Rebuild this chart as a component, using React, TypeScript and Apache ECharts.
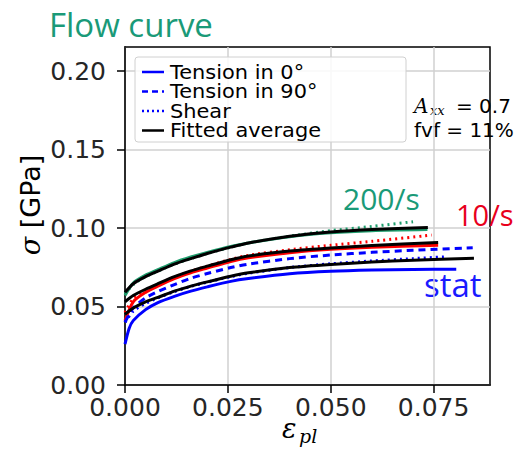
import React, { useEffect, useRef } from 'react';
import * as echarts from 'echarts';

// Tick values
const xTickValues = [0, 0.025, 0.05, 0.075];
const yTickValues = [0, 0.05, 0.1, 0.15, 0.2];

// 200/s
const x200Solid = [0, 0.002, 0.005, 0.008, 0.012, 0.016, 0.02, 0.0257, 0.03, 0.04, 0.05, 0.06, 0.0735];
const y200Solid = [0.057, 0.065, 0.07, 0.0735, 0.078, 0.0815, 0.0845, 0.0883, 0.0905, 0.0945, 0.097, 0.0983, 0.099];
const x200Shear = [0, 0.002, 0.005, 0.008, 0.012, 0.016, 0.02, 0.0257, 0.03, 0.04, 0.05, 0.06, 0.07];
const y200Shear = [0.058, 0.064, 0.069, 0.0725, 0.077, 0.0805, 0.0838, 0.0878, 0.0905, 0.0948, 0.0983, 0.101, 0.104];
const x200Fit = [0, 0.002, 0.005, 0.008, 0.012, 0.016, 0.02, 0.0257, 0.03, 0.04, 0.05, 0.06, 0.0736];
const y200Fit = [0.059, 0.0645, 0.069, 0.0725, 0.077, 0.0805, 0.0838, 0.0878, 0.0905, 0.0948, 0.0975, 0.0991, 0.1003];

// 10/s
const x10Solid = [0, 0.002, 0.005, 0.008, 0.012, 0.016, 0.02, 0.0257, 0.03, 0.04, 0.05, 0.06, 0.0761];
const y10Solid = [0.041, 0.053, 0.059, 0.063, 0.0678, 0.0715, 0.0745, 0.0787, 0.081, 0.0843, 0.0865, 0.0878, 0.089];
const x10Shear = [0, 0.002, 0.005, 0.008, 0.012, 0.016, 0.02, 0.0257, 0.03, 0.04, 0.05, 0.06, 0.0745];
const y10Shear = [0.046, 0.055, 0.06, 0.064, 0.0688, 0.0725, 0.0757, 0.08, 0.0826, 0.0862, 0.089, 0.0915, 0.0955];
const x10Fit = [0, 0.002, 0.005, 0.008, 0.012, 0.016, 0.02, 0.0257, 0.03, 0.04, 0.05, 0.06, 0.0761];
const y10Fit = [0.053, 0.057, 0.061, 0.0645, 0.069, 0.0727, 0.0757, 0.0798, 0.0822, 0.0853, 0.0873, 0.0888, 0.0908];

// stat
const xStatSolid = [0, 0.001, 0.002, 0.005, 0.008, 0.012, 0.016, 0.02, 0.0257, 0.03, 0.04, 0.05, 0.06, 0.07, 0.0805];
const yStatSolid = [0.026, 0.036, 0.041, 0.048, 0.0525, 0.0565, 0.0598, 0.0625, 0.066, 0.0678, 0.0708, 0.0724, 0.0732, 0.0736, 0.0737];
const xStat90 = [0, 0.002, 0.005, 0.008, 0.012, 0.016, 0.02, 0.0257, 0.03, 0.04, 0.05, 0.06, 0.07, 0.0845];
const yStat90 = [0.04, 0.049, 0.0555, 0.0595, 0.064, 0.068, 0.071, 0.0748, 0.077, 0.0805, 0.0828, 0.0845, 0.0858, 0.0874];
const xStatShear = [0, 0.002, 0.005, 0.008, 0.012, 0.016, 0.02, 0.0257, 0.03, 0.04, 0.05, 0.06, 0.07, 0.0775];
const yStatShear = [0.04, 0.047, 0.052, 0.0555, 0.0595, 0.0628, 0.0655, 0.069, 0.0712, 0.0748, 0.0772, 0.079, 0.0805, 0.0816];
const xStatFit = [0, 0.002, 0.005, 0.008, 0.012, 0.016, 0.02, 0.0257, 0.03, 0.04, 0.05, 0.06, 0.07, 0.0848];
const yStatFit = [0.045, 0.049, 0.053, 0.0558, 0.0598, 0.063, 0.0657, 0.0693, 0.0715, 0.0748, 0.0768, 0.0783, 0.0795, 0.0808];

const legendLabels = ['Tension in 0°', 'Tension in 90°', 'Shear', 'Fitted average'];

const GREEN = '#1f9e6e';
const RED = '#ff0000';
const BLUE = '#0000ff';

const zip = (xs: number[], ys: number[]) => xs.map((x, i) => [x, ys[i]]);

const mk = (name: string, xs: number[], ys: number[], color: string, type: any, width: number) => ({
  name,
  type: 'line',
  data: zip(xs, ys),
  showSymbol: false,
  symbol: 'none',
  smooth: 0.25,
  lineStyle: { color, type, width, cap: 'butt' },
  silent: true,
});

export default function App() {
  const ref = useRef<HTMLDivElement>(null);
  useEffect(() => {
    if (!ref.current) return;
    const chart = echarts.init(ref.current, undefined, { renderer: 'svg' });
    const tickFont = { fontFamily: 'DejaVu Sans', fontSize: 25, color: '#262626' };
    const legendY = [72, 91.5, 111, 130.5];
    const legendStyles: any[] = [
      { stroke: BLUE, lineWidth: 2.5 },
      { stroke: BLUE, lineWidth: 2.5, lineDash: [6, 4] },
      { stroke: BLUE, lineWidth: 2.5, lineDash: [2, 3] },
      { stroke: '#000', lineWidth: 2.5 },
    ];
    const legendEls: any[] = [
      {
        type: 'rect',
        shape: { x: 135, y: 57, width: 271, height: 85, r: 3 },
        style: { fill: 'rgba(255,255,255,0.85)', stroke: '#d0d0d0', lineWidth: 1 },
        z: 100,
      },
    ];
    legendLabels.forEach((l, i) => {
      legendEls.push({
        type: 'line',
        shape: { x1: 142, y1: legendY[i], x2: 164, y2: legendY[i] },
        style: legendStyles[i],
        z: 101,
      });
      legendEls.push({
        type: 'text',
        x: 170,
        y: legendY[i],
        scaleX: 1.1,
        style: { text: l, fontFamily: 'DejaVu Sans', fontSize: 19, fill: '#000', verticalAlign: 'middle' },
        z: 101,
      });
    });

    chart.setOption({
      animation: false,
      grid: {
        left: 125,
        top: 47,
        width: 365,
        height: 338,
        show: true,
        borderColor: '#000',
        borderWidth: 1.5,
        backgroundColor: 'transparent',
      },
      xAxis: {
        type: 'value',
        min: 0,
        max: 0.0887,
        interval: 0.025,
        axisLine: { show: true, lineStyle: { color: '#000', width: 1.5 } },
        axisTick: { show: true, length: 8, lineStyle: { color: '#000', width: 1.5 }, customValues: xTickValues },
        axisLabel: { ...tickFont, margin: 10, customValues: xTickValues, formatter: (v: number) => v.toFixed(3) },
        splitLine: { show: true, lineStyle: { color: '#d0d0d0', width: 1.5 } },
      },
      yAxis: {
        type: 'value',
        min: 0,
        max: 0.2153,
        interval: 0.05,
        axisLine: { show: true, lineStyle: { color: '#000', width: 1.5 } },
        axisTick: { show: true, length: 8, lineStyle: { color: '#000', width: 1.5 }, customValues: yTickValues },
        axisLabel: { ...tickFont, margin: 19, customValues: yTickValues, formatter: (v: number) => v.toFixed(2) },
        splitLine: { show: true, lineStyle: { color: '#d0d0d0', width: 1.5 } },
      },
      series: [
        mk('200/s Tension in 0°', x200Solid, y200Solid, GREEN, 'solid', 3),
        mk('200/s Shear', x200Shear, y200Shear, GREEN, [2, 4], 3),
        mk('10/s Tension in 0°', x10Solid, y10Solid, RED, 'solid', 3),
        mk('10/s Shear', x10Shear, y10Shear, RED, [2, 4], 3),
        mk('stat Tension in 0°', xStatSolid, yStatSolid, BLUE, 'solid', 3),
        mk('stat Tension in 90°', xStat90, yStat90, BLUE, [7, 5], 3),
        mk('stat Shear', xStatShear, yStatShear, BLUE, [2, 4], 3),
        mk('200/s Fitted average', x200Fit, y200Fit, '#000', 'solid', 3),
        mk('10/s Fitted average', x10Fit, y10Fit, '#000', 'solid', 3),
        mk('stat Fitted average', xStatFit, yStatFit, '#000', 'solid', 3),
      ],
      graphic: [
        ...legendEls,
        {
          type: 'text', x: 49, y: 24,
          style: { text: 'Flow curve', fontFamily: 'Open Sans', fontSize: 33, fill: '#1a9a78', verticalAlign: 'middle' },
        },
        {
          type: 'text', x: 343, y: 198,
          style: { text: '200/s', fontFamily: 'Open Sans', fontSize: 30, fill: '#1a9a78', verticalAlign: 'middle' },
        },
        {
          type: 'text', x: 456, y: 214,
          style: { text: '10/s', fontFamily: 'Open Sans', fontSize: 29, fill: '#e8001c', verticalAlign: 'middle' },
        },
        {
          type: 'text', x: 424, y: 284,
          style: { text: 'stat', fontFamily: 'Open Sans', fontSize: 33, fill: '#1a1aff', verticalAlign: 'middle' },
        },
        {
          type: 'text', x: 414, y: 105.5,
          style: { text: 'A', fontFamily: 'DejaVu Serif', fontStyle: 'italic', fontSize: 20, fill: '#000', verticalAlign: 'middle' },
        },
        {
          type: 'text', x: 430, y: 110,
          style: { text: 'xx', fontFamily: 'DejaVu Serif', fontStyle: 'italic', fontSize: 13, fill: '#000', verticalAlign: 'middle' },
        },
        {
          type: 'text', x: 456, y: 105.5,
          style: { text: '= 0.7', fontFamily: 'DejaVu Sans', fontSize: 20, fill: '#000', verticalAlign: 'middle' },
        },
        {
          type: 'text', x: 414, y: 130,
          style: { text: 'fvf = 11%', fontFamily: 'DejaVu Sans', fontSize: 20, fill: '#000', verticalAlign: 'middle' },
        },
        {
          type: 'text', x: 30, y: 205, rotation: Math.PI / 2,
          style: {
            text: '{s|σ} [GPa]', fontFamily: 'DejaVu Sans', fontSize: 27, fill: '#000',
            align: 'center', verticalAlign: 'middle',
            rich: { s: { fontFamily: 'DejaVu Serif', fontStyle: 'italic', fontSize: 27 } },
          },
        },
        {
          type: 'text', x: 282, y: 428,
          style: { text: 'ε', fontFamily: 'DejaVu Serif', fontStyle: 'italic', fontSize: 27, fill: '#000', verticalAlign: 'middle' },
        },
        {
          type: 'text', x: 299, y: 436,
          style: { text: 'pl', fontFamily: 'DejaVu Serif', fontStyle: 'italic', fontSize: 19, fill: '#000', verticalAlign: 'middle' },
        },
      ],
    });
    return () => chart.dispose();
  }, []);
  return <div ref={ref} style={{ position: 'fixed', left: 0, top: 0, width: 515, height: 454, background: '#fff' }} />;
}
